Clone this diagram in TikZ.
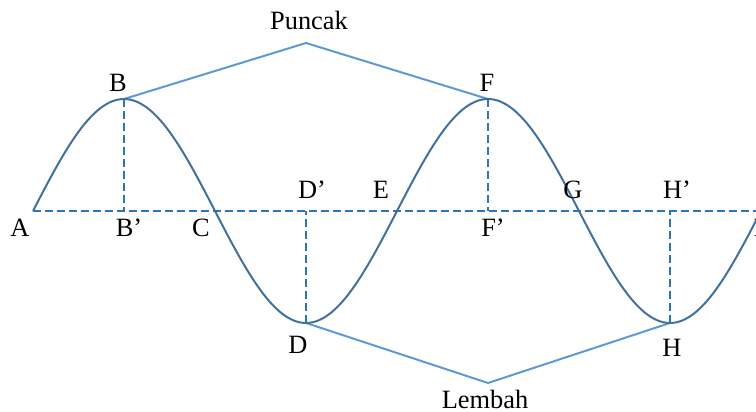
\documentclass[tikz,border=0pt]{standalone}
\usepackage{fontspec}
\setmainfont{Liberation Serif}
\usetikzlibrary{calc}
\definecolor{wavecol}{HTML}{41719C}
\definecolor{axiscol}{HTML}{2E75B6}
\definecolor{guidecol}{HTML}{5B9BD5}
\tikzset{
  wave/.style={
    draw=wavecol,
    line width=1pt
  },
  axisline/.style={
    draw=axiscol,
    line width=1.2pt,
    dash pattern=on 4pt off 2pt
  },
  guideline/.style={
    draw=guidecol,
    line width=1pt
  },
  lbl/.style={
    inner sep=0pt,
    font=\fontsize{13.2}{15}\selectfont
  },
  every picture/.style = {
    x=0.5pt,
    y=-0.5pt
  }
}
\begin{document}
\begin{tikzpicture}
            \useasboundingbox (0,0) rectangle (756,412);
            % points on the wave
            \coordinate (A) at (33,211);
            \coordinate (B) at (124,99);
            \coordinate (C) at (215,211);
            \coordinate (D) at (306,323);
            \coordinate (E) at (397,211);
            \coordinate (F) at (488,99);
            \coordinate (G) at (579,211);
            \coordinate (H) at (670,323);
            \coordinate (I) at (761,211);
            \coordinate (Bp) at (124,211);
            \coordinate (Dp) at (306,211);
            \coordinate (Fp) at (488,211);
            \coordinate (Hp) at (670,211);
            \coordinate (top) at (306,43);
            \coordinate (bot) at (488,383);
            % axis and drop lines
            \draw[axisline] (A)--(I);
            \draw[axisline] (B)--(Bp);
            \draw[axisline] (D)--(Dp);
            \draw[axisline] (F)--(Fp);
            \draw[axisline] (H)--(Hp);
            % peaks and troughs
            \draw[guideline] (B)--(top)--(F);
            \draw[guideline] (D)--(bot)--(H);
            \draw[wave] plot[domain=0:728,samples=240] ({\x+33},{211-112*sin(0.989011*\x)});
            % labels
            \node[lbl] (lA) at (20,228) {A};
            \node[lbl] (lB) at (118,83) {B};
            \node[lbl] (lBp) at (129,228) {B’};
            \node[lbl] (lC) at (201,228) {C};
            \node[lbl] (lD) at (298,345) {D};
            \node[lbl] (lDp) at (312,190) {D’};
            \node[lbl] (lE) at (381,190) {E};
            \node[lbl] (lF) at (487,83) {F};
            \node[lbl] (lFp) at (493,228) {F’};
            \node[lbl] (lG) at (573,190) {G};
            \node[lbl] (lH) at (672,348) {H};
            \node[lbl] (lHp) at (677,190) {H’};
            \node[lbl] (lI) at (758,228) {I};
            \node[lbl] (puncak) at (309,20) {Puncak};
            \node[lbl] (lembah) at (485,399) {Lembah};
        \end{tikzpicture}
\end{document}
